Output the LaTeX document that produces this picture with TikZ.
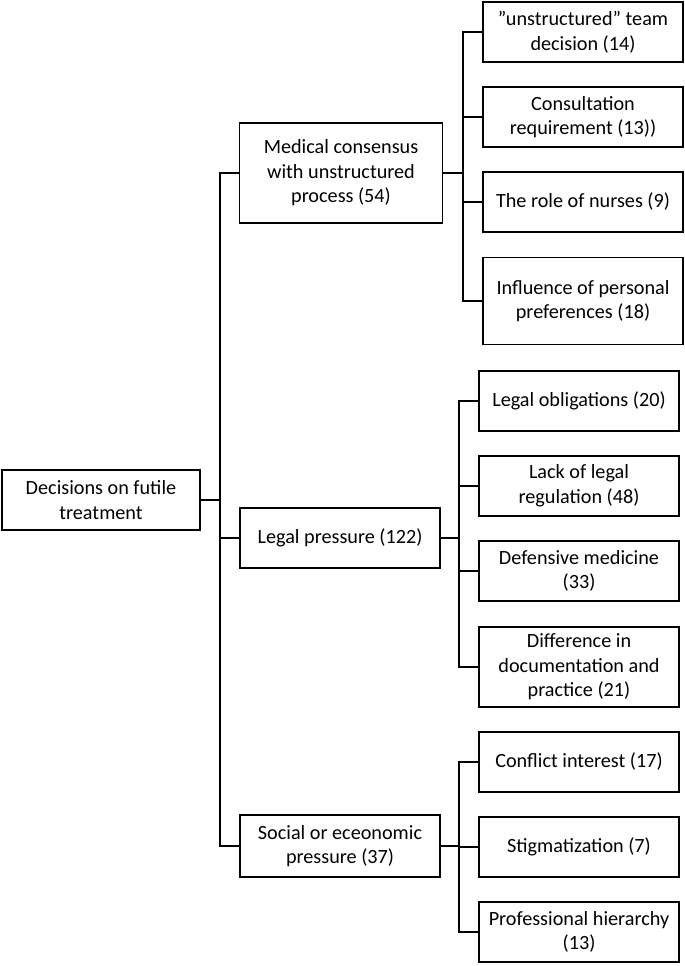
\documentclass[tikz,border=0pt]{standalone}
\usepackage{fontspec}
\setmainfont{Carlito}
\usetikzlibrary{positioning,calc}
\begin{document}
\begin{tikzpicture}[x=0.02cm,y=-0.02cm,line width=.8pt,
  box/.style={draw, align=center, inner sep=2pt, font=\fontsize{11.5}{14}\selectfont},
  mid/.style={box, minimum width=4cm, minimum height=1.2cm},
  leaf/.style={box, minimum width=4cm, minimum height=1.2cm}]
\useasboundingbox (0,0) rectangle (685,966);
% Root and middle level
\node[box, minimum width=3.96cm, minimum height=1.2cm] (root) at (101,500) {Decisions on futile\\treatment};
\node[mid, minimum width=4.06cm, minimum height=2cm] (med) at (341,173) {Medical consensus\\with unstructured\\process (54)};
\node[mid] (leg) at (340,538) {Legal pressure (122)};
\node[mid, minimum height=1.24cm] (soc) at (340,846) {Social or eceonomic\\pressure (37)};
% Leaves
\node[leaf] (m1) at (583,32) {"unstructured" team\\decision (14)};
\node[leaf] (m2) at (583,117) {Consultation\\requirement (13))};
\node[leaf] (m3) at (583,202) {The role of nurses (9)};
\node[leaf, minimum height=1.74cm] (m4) at (583,301) {Influence of personal\\preferences (18)};
\node[leaf] (l1) at (579,401) {Legal obligations (20)};
\node[leaf] (l2) at (579,486) {Lack of legal\\regulation (48)};
\node[leaf] (l3) at (579,571) {Defensive medicine\\(33)};
\node[leaf, minimum height=1.6cm] (l4) at (579,667) {Difference in\\documentation and\\practice (21)};
\node[leaf] (s1) at (579,762) {Conflict interest (17)};
\node[leaf] (s2) at (579,847) {Stigmatization (7)};
\node[leaf] (s3) at (579,932) {Professional hierarchy\\(13)};
% Connectors
\coordinate (rj) at (220,500);
\draw (root.east) -- (rj);
\foreach \n in {med,leg,soc} \draw (rj) |- (\n.west);
\coordinate (mj) at (463,173);
\draw (med.east) -- (mj);
\foreach \n in {m1,m2,m3,m4} \draw (mj) |- (\n.west);
\coordinate (lj) at (459,538);
\draw (leg.east) -- (lj);
\foreach \n in {l1,l2,l3,l4} \draw (lj) |- (\n.west);
\coordinate (sj) at (459,846);
\draw (soc.east) -- (sj);
\foreach \n in {s1,s2,s3} \draw (sj) |- (\n.west);
\end{tikzpicture}
\end{document}
